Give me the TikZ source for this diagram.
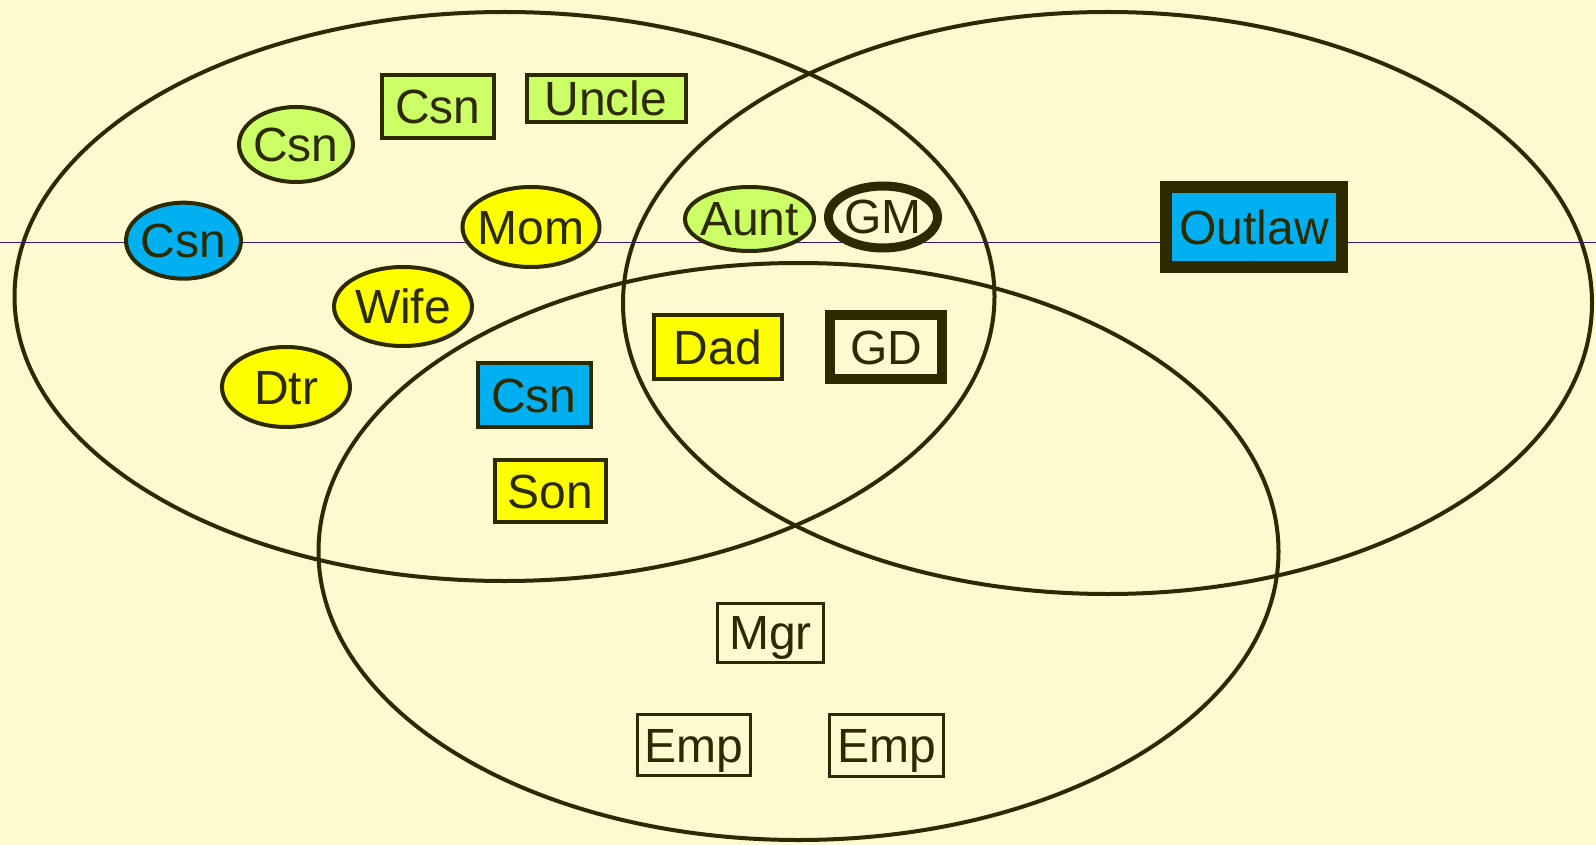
\documentclass[tikz,border=0pt]{standalone}
\usepackage{fontspec}
\setmainfont{Liberation Sans}
\usetikzlibrary{shapes.geometric}
\definecolor{bgc}{HTML}{FEF9CF}
\definecolor{ink}{HTML}{2E2A00}
\definecolor{limec}{HTML}{CCFF66}
\definecolor{yelc}{HTML}{FFFF00}
\definecolor{bluec}{HTML}{00B0F0}
\definecolor{linec}{HTML}{3A1470}
\newcommand\zw[1]{\makebox[0pt]{#1}}
\tikzset{
  base/.style={draw=ink, text=ink, line width=4pt, inner sep=0pt,
    font=\fontsize{48}{56}\selectfont, text height=34pt, text depth=0pt, align=center},
  ebox/.style={base, ellipse},
  rbox/.style={base, rectangle},
  setline/.style={draw=ink, line width=4pt},
}
\begin{document}
\begin{tikzpicture}[x=1pt,y=-1pt]
\fill[bgc] (0,0) rectangle (1596,845);
\useasboundingbox (0,0) rectangle (1596,845);
% sets
\draw[setline] (504.5,296.5) ellipse [x radius=490, y radius=284.5];
\draw[setline] (1107.5,303) ellipse [x radius=484.5, y radius=291];
\draw[setline] (798.5,551.5) ellipse [x radius=480, y radius=288.5];
% thin horizontal line
\coordinate (hl) at (0,242.5);
\coordinate (hr) at (1596,242.5);
\draw[linec, line width=1.4pt] (hl) -- (hr);
% nodes
\node[ebox, fill=limec, minimum width=114pt, minimum height=75pt] (csn1) at (296,144.5) {\zw{Csn}};
\node[rbox, fill=limec, minimum width=112pt, minimum height=63pt] (csn2) at (438,107) {Csn};
\node[rbox, fill=limec, minimum width=159pt, minimum height=47pt] (uncle) at (606,99) {Uncle};
\node[ebox, fill=bluec, minimum width=115pt, minimum height=76pt] (csn3) at (183.5,240.7) {\zw{Csn}};
\node[ebox, fill=yelc, minimum width=137pt, minimum height=80pt] (mom) at (531,227) {\zw{Mom}};
\node[ebox, fill=yelc, minimum width=138pt, minimum height=79pt] (wife) at (403,306.5) {\zw{Wife}};
\node[ebox, fill=yelc, minimum width=128pt, minimum height=80pt] (dtr) at (286,387) {\zw{Dtr}};
\node[rbox, fill=bluec, minimum width=113pt, minimum height=64pt] (csn4) at (534,395) {Csn};
\node[rbox, fill=yelc, minimum width=111pt, minimum height=62pt] (son) at (550,491) {Son};
\node[ebox, fill=limec, minimum width=129pt, minimum height=64pt] (aunt) at (749.5,219) {\zw{Aunt}};
\node[ebox, fill=bgc, line width=9pt, minimum width=109pt, minimum height=62pt] (gm) at (883,217) {\zw{GM}};
\node[rbox, fill=yelc, minimum width=128pt, minimum height=64pt] (dad) at (718,347) {Dad};
\node[rbox, fill=bgc, line width=10pt, minimum width=112pt, minimum height=64pt] (gd) at (886,347) {GD};
\node[rbox, fill=bluec, line width=12pt, minimum width=176pt, minimum height=80pt] (outlaw) at (1254,227) {Outlaw};
\node[rbox, fill=bgc, line width=3pt, minimum width=106pt, minimum height=59pt] (mgr) at (770.5,632.5) {Mgr};
\node[rbox, fill=bgc, line width=3pt, minimum width=113pt, minimum height=61pt] (emp1) at (694,745) {Emp};
\node[rbox, fill=bgc, line width=3pt, minimum width=114pt, minimum height=62pt] (emp2) at (886.5,745.5) {Emp};
\end{tikzpicture}
\end{document}
